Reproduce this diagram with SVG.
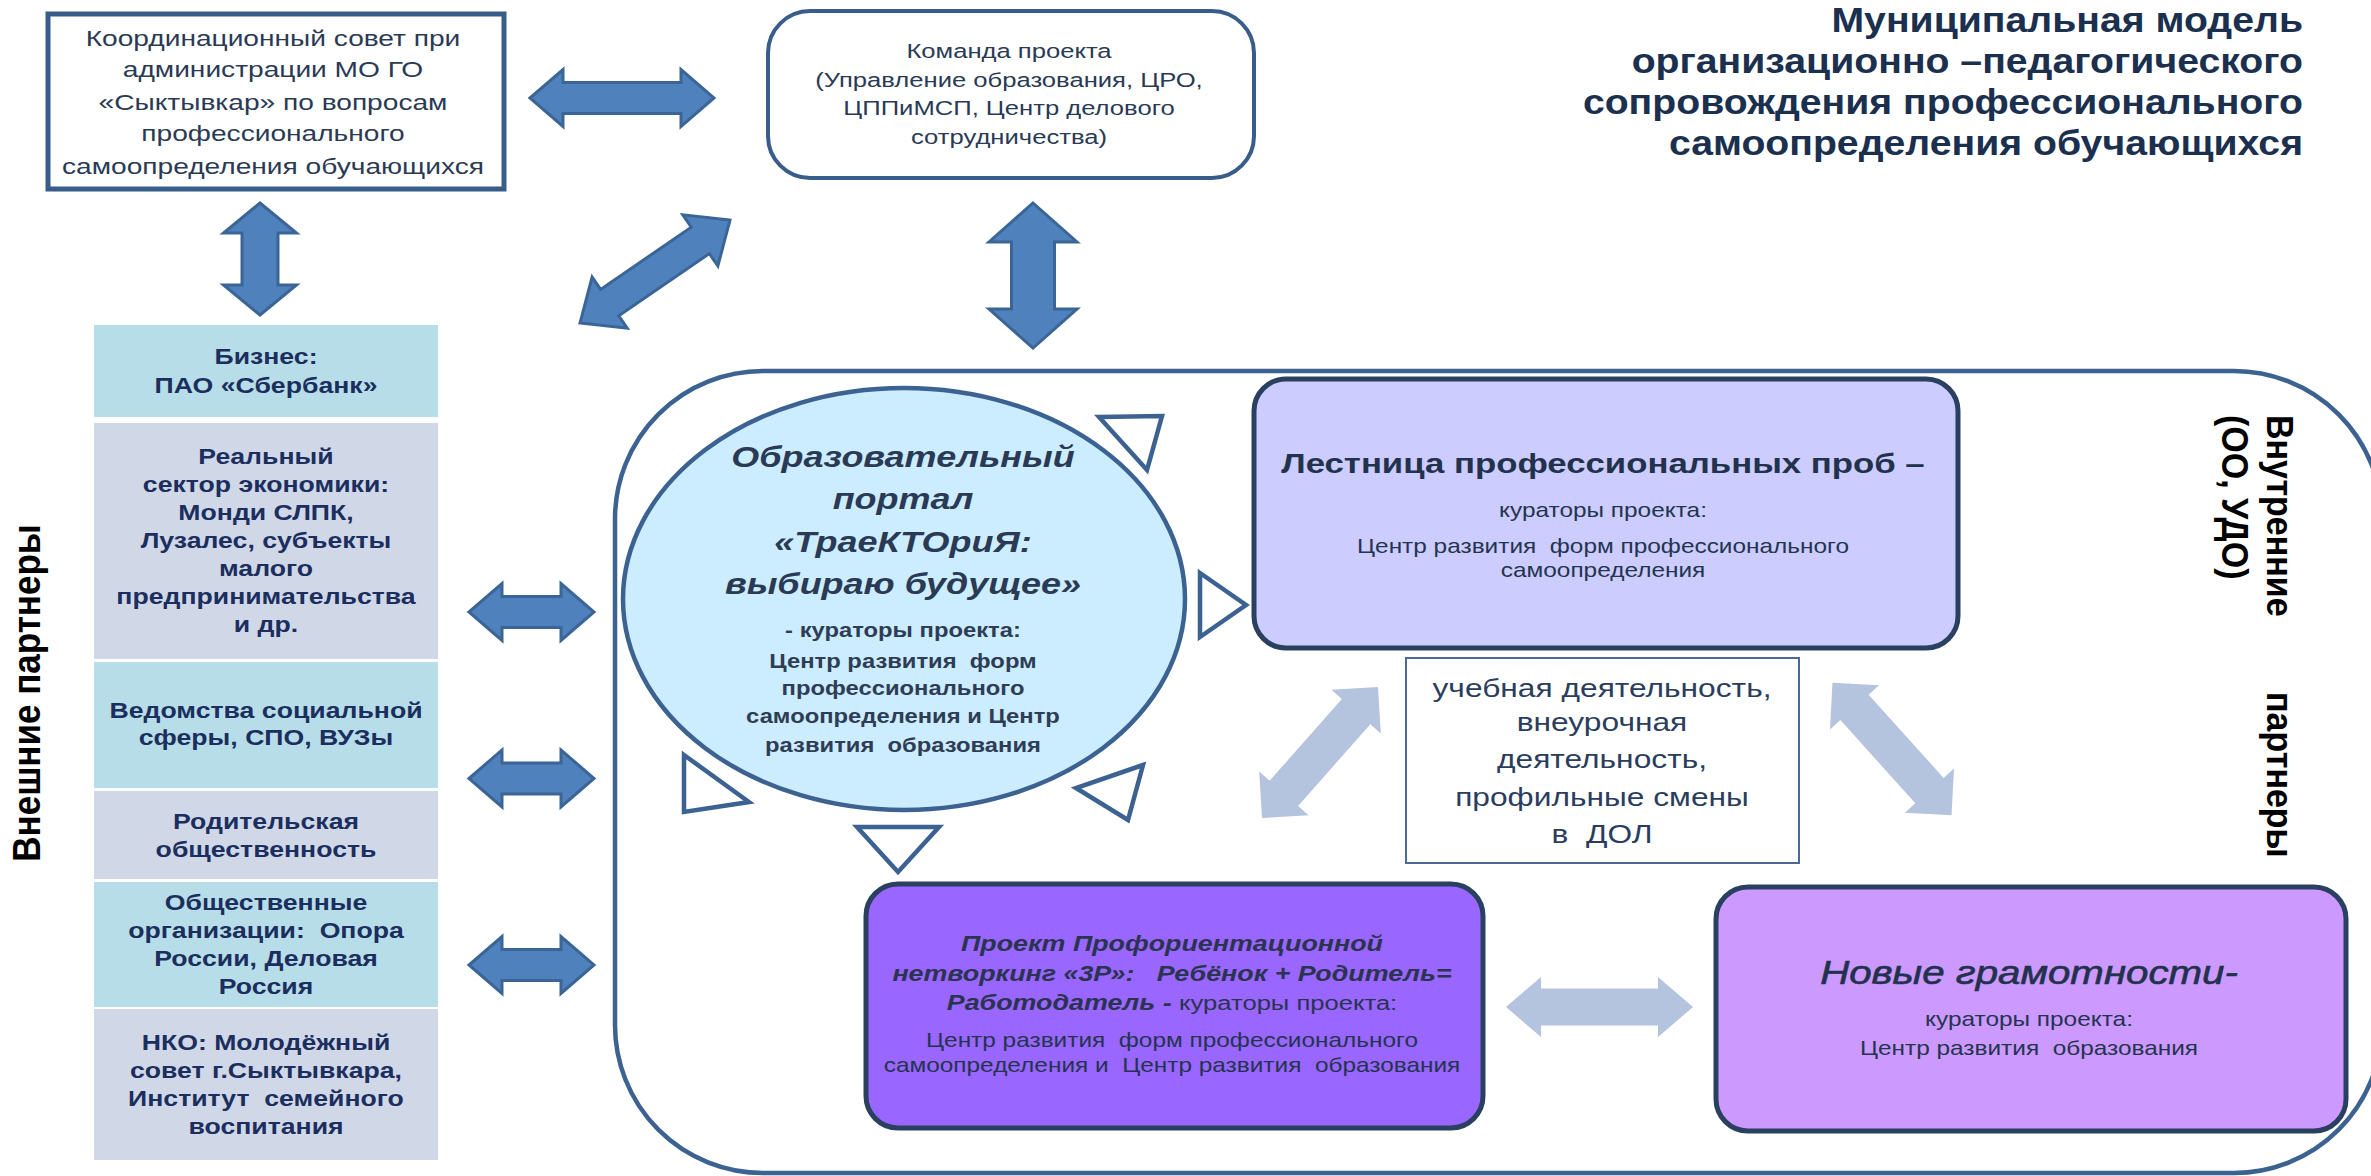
<svg xmlns="http://www.w3.org/2000/svg" width="2371" height="1176" viewBox="0 0 2371 1176">
<defs>
<style>
text { font-family: "Liberation Sans", Arial, sans-serif; }
.coord { font-size: 22.5px; fill: #2A3A55; text-anchor: middle; }
.cmd { font-size: 20.5px; fill: #2A3A55; text-anchor: middle; }
.title { font-size: 35px; font-weight: bold; fill: #1B2F4F; text-anchor: end; }
.ext { font-size: 21.5px; font-weight: bold; fill: #1C2E5E; text-anchor: middle; }
.side { font-size: 34px; font-weight: bold; fill: #000; }
.ptitle { font-size: 29.5px; font-weight: bold; font-style: italic; fill: #2A3A55; text-anchor: middle; }
.psub { font-size: 19.5px; font-weight: bold; fill: #2E3D55; text-anchor: middle; }
.small { font-size: 20px; fill: #24344F; text-anchor: middle; }
.ltitle { font-size: 28.5px; font-weight: bold; fill: #22324D; text-anchor: middle; }
.mid { font-size: 26px; fill: #2A3D5E; text-anchor: middle; }
.bi { font-size: 22px; font-weight: bold; font-style: italic; fill: #2A3350; text-anchor: middle; }
.ng { font-size: 33px; font-style: italic; fill: #22324D; stroke: #22324D; stroke-width: 0.6; text-anchor: middle; }
.darr { fill: #4F81BD; stroke: #3A6596; stroke-width: 3; stroke-linejoin: miter; }
.larr { fill: #B4C4DE; }
.tri { fill: #FFFFFF; stroke: #3B6290; stroke-width: 4.5; stroke-linejoin: miter; }
.ebox1 { fill: #B7DEE8; }
.ebox2 { fill: #D0D8E8; }
.proj { stroke: #2A4060; stroke-width: 5; }
</style>
</defs>
<rect x="0" y="0" width="2371" height="1176" fill="#FFFFFF"/>

<g id="inner-frame">
<rect x="615" y="371" width="1767" height="802" rx="148" ry="148" fill="none" stroke="#3B6290" stroke-width="4.5"/>
</g>

<g id="title">
<g transform="translate(2303 0) scale(1.12 1)">
<text class="title" x="0" y="32">Муниципальная модель</text>
<text class="title" x="0" y="73">организационно –педагогического</text>
<text class="title" x="0" y="114">сопровождения профессионального</text>
<text class="title" x="0" y="155">самоопределения обучающихся</text>
</g>
</g>

<g id="coord-council">
<rect x="48" y="14" width="456" height="175" fill="#FFFFFF" stroke="#385D8A" stroke-width="5"/>
<g transform="translate(273 0) scale(1.25 1)">
<text class="coord" x="0" y="46">Координационный совет при</text>
<text class="coord" x="0" y="77">администрации МО ГО</text>
<text class="coord" x="0" y="110">«Сыктывкар» по вопросам</text>
<text class="coord" x="0" y="141">профессионального</text>
<text class="coord" x="0" y="174">самоопределения обучающихся</text>
</g>
</g>

<g id="project-team">
<rect x="768" y="11" width="486" height="167" rx="42" ry="42" fill="#FFFFFF" stroke="#385D8A" stroke-width="4"/>
<g transform="translate(1009 0) scale(1.25 1)">
<text class="cmd" x="0" y="58">Команда проекта</text>
<text class="cmd" x="0" y="87">(Управление образования, ЦРО,</text>
<text class="cmd" x="0" y="115">ЦППиМСП, Центр делового</text>
<text class="cmd" x="0" y="144">сотрудничества)</text>
</g>
</g>

<g id="external-partners">
<rect class="ebox1" x="94" y="325" width="344" height="92"/>
<rect class="ebox2" x="94" y="423" width="344" height="236"/>
<rect class="ebox1" x="94" y="662" width="344" height="126"/>
<rect class="ebox2" x="94" y="791" width="344" height="88"/>
<rect class="ebox1" x="94" y="882" width="344" height="125"/>
<rect class="ebox2" x="94" y="1009" width="344" height="151"/>
<g transform="translate(266 0) scale(1.24 1)">
<text class="ext" x="0" y="364">Бизнес:</text>
<text class="ext" x="0" y="393">ПАО «Сбербанк»</text>
<text class="ext" x="0" y="464">Реальный</text>
<text class="ext" x="0" y="492">сектор экономики:</text>
<text class="ext" x="0" y="520">Монди СЛПК,</text>
<text class="ext" x="0" y="548">Лузалес, субъекты</text>
<text class="ext" x="0" y="576">малого</text>
<text class="ext" x="0" y="604">предпринимательства</text>
<text class="ext" x="0" y="632">и др.</text>
<text class="ext" x="0" y="718">Ведомства социальной</text>
<text class="ext" x="0" y="745">сферы, СПО, ВУЗы</text>
<text class="ext" x="0" y="829">Родительская</text>
<text class="ext" x="0" y="857">общественность</text>
<text class="ext" x="0" y="910">Общественные</text>
<text class="ext" x="0" y="938">организации:&#160; Опора</text>
<text class="ext" x="0" y="966">России, Деловая</text>
<text class="ext" x="0" y="994">Россия</text>
<text class="ext" x="0" y="1050">НКО: Молодёжный</text>
<text class="ext" x="0" y="1078">совет г.Сыктывкара,</text>
<text class="ext" x="0" y="1106">Институт&#160; семейного</text>
<text class="ext" x="0" y="1134">воспитания</text>
</g>
</g>

<g id="label-external">
<text class="side" text-anchor="middle" style="font-size:35px" transform="translate(40 693) scale(1.1 1) rotate(-90)">Внешние партнеры</text>
</g>

<g id="label-internal">
<text class="side" transform="translate(2267 415) scale(1.1 1) rotate(90)">Внутренние</text>
<text class="side" transform="translate(2222 415) scale(1.1 1) rotate(90)">(ОО, УДО)</text>
<text class="side" transform="translate(2267 692) scale(1.1 1) rotate(90)">партнеры</text>
</g>

<g id="portal">
<ellipse cx="904" cy="599" rx="281" ry="211" fill="#CCECFF" stroke="#3B6290" stroke-width="4.5"/>
<g transform="translate(903 0) scale(1.22 1)">
<text class="ptitle" x="0" y="467">Образовательный</text>
<text class="ptitle" x="0" y="509">портал</text>
<text class="ptitle" x="0" y="552">«ТраеКТОриЯ:</text>
<text class="ptitle" x="0" y="594">выбираю будущее»</text>
<text class="psub" x="0" y="637">- кураторы проекта:</text>
<text class="psub" x="0" y="668">Центр развития&#160; форм</text>
<text class="psub" x="0" y="695">профессионального</text>
<text class="psub" x="0" y="723">самоопределения и Центр</text>
<text class="psub" x="0" y="752">развития&#160; образования</text>
</g>
</g>

<g id="portal-rays">
<polygon class="tri" points="1099,417 1162,416 1147,470"/>
<polygon class="tri" points="1200,573 1246,605 1200,637"/>
<polygon class="tri" points="1143,765 1076,788 1128,820"/>
<polygon class="tri" points="857,827 939,827 898,872"/>
<polygon class="tri" points="684,755 749,802 684,812"/>
</g>

<g id="ladder">
<rect class="proj" x="1254" y="379" width="704" height="269" rx="32" ry="32" fill="#CCCCFF"/>
<g transform="translate(1603 0) scale(1.22 1)">
<text class="ltitle" x="0" y="473">Лестница профессиональных проб –</text>
<text class="small" x="0" y="517">кураторы проекта:</text>
<text class="small" x="0" y="553">Центр развития&#160; форм профессионального</text>
<text class="small" x="0" y="577">самоопределения</text>
</g>
</g>

<g id="activities">
<rect x="1406" y="658" width="393" height="205" fill="#FFFFFF" stroke="#4A6A95" stroke-width="2"/>
<g transform="translate(1602 0) scale(1.22 1)">
<text class="mid" x="0" y="697">учебная деятельность,</text>
<text class="mid" x="0" y="731">внеурочная</text>
<text class="mid" x="0" y="768">деятельность,</text>
<text class="mid" x="0" y="806">профильные смены</text>
<text class="mid" x="0" y="843">в&#160; ДОЛ</text>
</g>
</g>

<g id="networking">
<rect class="proj" x="866" y="884" width="617" height="244" rx="32" ry="32" fill="#9966FF"/>
<g transform="translate(1172 0) scale(1.22 1)">
<text class="bi" x="0" y="951">Проект Профориентационной</text>
<text class="bi" x="0" y="981">нетворкинг «3Р»:&#160;&#160; Ребёнок + Родитель=</text>
<text class="bi" x="0" y="1010">Работодатель - <tspan style="font-weight:normal;font-style:normal;font-size:21px">кураторы проекта:</tspan></text>
<text class="small" x="0" y="1047">Центр развития&#160; форм профессионального</text>
<text class="small" x="0" y="1072">самоопределения и&#160; Центр развития&#160; образования</text>
</g>
</g>

<g id="new-literacies">
<rect class="proj" x="1716" y="887" width="630" height="244" rx="32" ry="32" fill="#CC99FF"/>
<g transform="translate(2029 0) scale(1.22 1)">
<text class="ng" x="0" y="984">Новые грамотности-</text>
<text class="small" x="0" y="1026">кураторы проекта:</text>
<text class="small" x="0" y="1055">Центр развития&#160; образования</text>
</g>
</g>

<g id="connectors">
<polygon class="darr" transform="translate(622 98)" points="-92,0 -59,-28.5 -59,-15.5 59,-15.5 59,-28.5 92,0 59,28.5 59,15.5 -59,15.5 -59,28.5"/>
<polygon class="darr" transform="translate(260 259) rotate(90)" points="-56,0 -26,-36.5 -26,-18 26,-18 26,-36.5 56,0 26,36.5 26,18 -26,18 -26,36.5"/>
<polygon class="darr" transform="translate(1033 275.5) rotate(90)" points="-72.5,0 -33.5,-44 -33.5,-21.5 33.5,-21.5 33.5,-44 72.5,0 33.5,44 33.5,21.5 -33.5,21.5 -33.5,44"/>
<polygon class="darr" transform="translate(655 271.5) rotate(-34.5)" points="-91,0 -55,-31 -55,-16 55,-16 55,-31 91,0 55,31 55,16 -55,16 -55,31"/>
<polygon class="darr" transform="translate(531.5 612)" points="-62.5,0 -29.5,-28.5 -29.5,-15.5 29.5,-15.5 29.5,-28.5 62.5,0 29.5,28.5 29.5,15.5 -29.5,15.5 -29.5,28.5"/>
<polygon class="darr" transform="translate(531.5 778.5)" points="-62.5,0 -29.5,-28.5 -29.5,-15.5 29.5,-15.5 29.5,-28.5 62.5,0 29.5,28.5 29.5,15.5 -29.5,15.5 -29.5,28.5"/>
<polygon class="darr" transform="translate(531.5 965)" points="-62.5,0 -29.5,-28.5 -29.5,-15.5 29.5,-15.5 29.5,-28.5 62.5,0 29.5,28.5 29.5,15.5 -29.5,15.5 -29.5,28.5"/>
<polygon class="larr" transform="translate(1320 752.5) rotate(-48.5)" points="-87.5,0 -54.5,-33 -54.5,-19 54.5,-19 54.5,-33 87.5,0 54.5,33 54.5,19 -54.5,19 -54.5,33"/>
<polygon class="larr" transform="translate(1892 749) rotate(48)" points="-89,0 -56,-33 -56,-19 56,-19 56,-33 89,0 56,33 56,19 -56,19 -56,33"/>
<polygon class="larr" transform="translate(1599.5 1007)" points="-93.5,0 -58.5,-30 -58.5,-18.5 58.5,-18.5 58.5,-30 93.5,0 58.5,30 58.5,18.5 -58.5,18.5 -58.5,30"/>
</g>
</svg>
